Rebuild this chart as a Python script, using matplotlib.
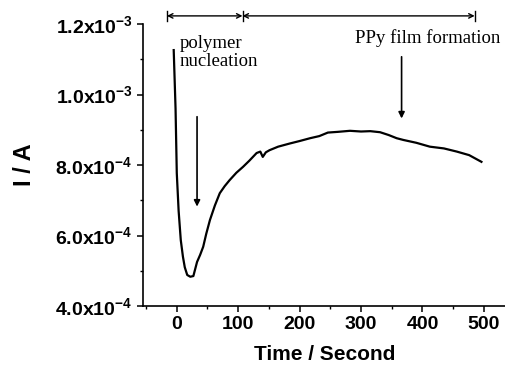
import numpy as np
import matplotlib.pyplot as plt
from matplotlib.ticker import MultipleLocator, FixedLocator

plt.rcParams['font.family'] = 'Liberation Sans'
plt.rcParams['font.weight'] = 'bold'
plt.rcParams['mathtext.fontset'] = 'custom'
plt.rcParams['mathtext.bf'] = 'Liberation Sans:bold'
plt.rcParams['mathtext.rm'] = 'Liberation Sans:bold'
plt.rcParams['mathtext.default'] = 'bf'

# courbe chronoamperometrique
time_s = [-5, -2, 0, 3, 6.5, 10, 13, 17, 22, 27, 33, 38, 43, 48, 54, 62, 70,
          78, 86, 97, 108, 118, 130, 136, 140, 145, 151, 165, 184, 200, 217,
          232, 246, 262, 282, 300, 315, 331, 345, 358, 369, 390, 412, 435,
          456, 476, 496]
current_A = [11.26e-4, 9.6e-4, 7.77e-4, 6.7e-4, 5.87e-4, 5.4e-4, 5.1e-4,
             4.88e-4, 4.83e-4, 4.85e-4, 5.25e-4, 5.45e-4, 5.68e-4, 6.05e-4,
             6.44e-4, 6.85e-4, 7.2e-4, 7.4e-4, 7.57e-4, 7.78e-4, 7.95e-4,
             8.12e-4, 8.34e-4, 8.38e-4, 8.23e-4, 8.36e-4, 8.42e-4, 8.52e-4,
             8.61e-4, 8.68e-4, 8.76e-4, 8.82e-4, 8.92e-4, 8.94e-4, 8.97e-4,
             8.95e-4, 8.96e-4, 8.93e-4, 8.85e-4, 8.76e-4, 8.71e-4, 8.63e-4,
             8.52e-4, 8.47e-4, 8.38e-4, 8.28e-4, 8.09e-4]

# annotations
bracket_x = [-16, 107, 485]
bracket_y = 1.223e-3
arrow_nucl = (33, 9.37e-4, 6.82e-4)
arrow_ppy = (366, 1.107e-3, 9.32e-4)

y_ticks = [4e-4, 6e-4, 8e-4, 1.0e-3, 1.2e-3]
y_labels = [r'4.0x10$^{-4}$', r'6.0x10$^{-4}$', r'8.0x10$^{-4}$',
            r'1.0x10$^{-3}$', r'1.2x10$^{-3}$']

fig = plt.figure(figsize=(5.06, 3.67), dpi=100)
ax = fig.add_axes([143/506, 61/367, 363/506, 282/367])

ax.plot(time_s, current_A, color='black', linewidth=1.6)

ax.set_xlim(-55, 536)
ax.set_ylim(4e-4, 1.2e-3)

for s in ['top', 'right']:
    ax.spines[s].set_visible(False)
ax.spines['left'].set_linewidth(1.2)
ax.spines['bottom'].set_linewidth(1.2)

ax.xaxis.set_major_locator(FixedLocator([0, 100, 200, 300, 400, 500]))
ax.xaxis.set_minor_locator(FixedLocator([-50, 50, 150, 250, 350, 450]))
ax.yaxis.set_major_locator(FixedLocator(y_ticks))
ax.yaxis.set_minor_locator(MultipleLocator(1e-4))
ax.set_yticklabels(y_labels)
ax.tick_params(which='major', direction='out', length=4, width=1.1,
               labelsize=14)
ax.tick_params(which='minor', direction='out', length=2.5, width=1)

ax.set_xlabel('Time / Second', fontsize=15, fontweight='bold', labelpad=8)
ax.set_ylabel('I / A', fontsize=17, fontweight='bold', labelpad=14)

# fleches horizontales en haut
for x0, x1 in [(bracket_x[0], bracket_x[1]), (bracket_x[1], bracket_x[2])]:
    ax.annotate('', xy=(x0, bracket_y), xytext=(x1, bracket_y),
                arrowprops=dict(arrowstyle='<->', lw=1.0, color='black',
                                shrinkA=0, shrinkB=0, mutation_scale=8),
                annotation_clip=False)
for xb in bracket_x:
    ax.plot([xb, xb], [bracket_y - 1.4e-5, bracket_y + 1.4e-5],
            color='black', lw=1.0, clip_on=False)

# fleches verticales
for xa, y0, y1 in [arrow_nucl, arrow_ppy]:
    ax.annotate('', xy=(xa, y1), xytext=(xa, y0),
                arrowprops=dict(arrowstyle='-|>', lw=1.2, color='black',
                                shrinkA=0, shrinkB=0, mutation_scale=9))

ax.text(5, 1.12e-3, 'polymer\nnucleation', fontsize=13.5, fontweight='normal',
        family='Liberation Serif', va='center', ha='left', linespacing=1.1)
ax.text(290, 1.16e-3, 'PPy film formation', fontsize=13.5,
        fontweight='normal', family='Liberation Serif', va='center',
        ha='left')

fig.savefig('out.png', dpi=100)
